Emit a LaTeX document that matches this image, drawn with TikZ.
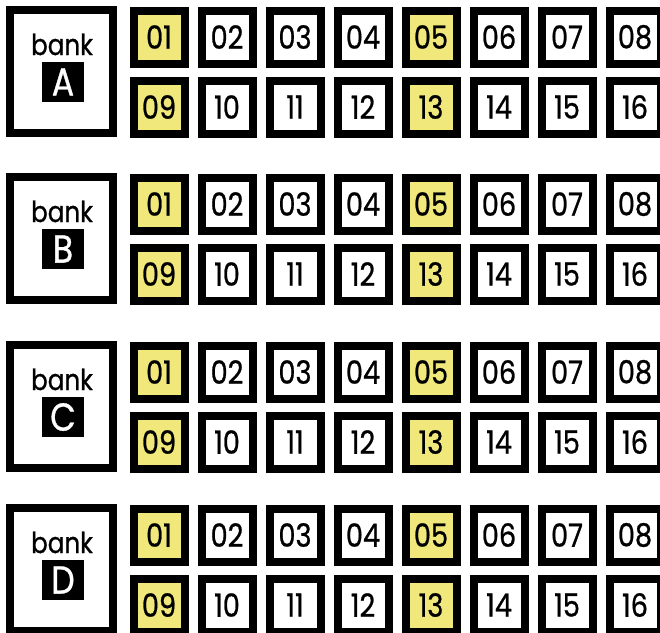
\documentclass[tikz,border=0pt]{standalone}
\usepackage{fontspec}
\newfontfamily\bankfont[FakeStretch=0.85, FakeBold=0.8]{Poppins}
\usetikzlibrary{positioning}
\definecolor{slotyellow}{RGB}{240,232,122}

\begin{document}
\begin{tikzpicture}[x=1pt, y=-1pt,
bankbox/.style={draw, line width=8pt, minimum width=103pt, minimum height=123pt, fill=white},
banklabel/.style={font=\bankfont\fontsize{29}{29}\selectfont, anchor=base, inner sep=0pt},
bankletter/.style={fill=black, text=white, minimum width=42pt, minimum height=40pt, inner sep=0pt, font=\bankfont\fontsize{39}{39}\selectfont},
slot/.style={draw, line width=8pt, minimum width=51pt, minimum height=53pt, inner sep=0pt, font=\bankfont\fontsize{32}{32}\selectfont}
]
\useasboundingbox (0,0) rectangle (660,632);
% one bank box and its sixteen slots per group
\foreach \b/\t in {A/6, B/173, C/341, D/504} {
  \node[bankbox] (bank\b) at (61.5,\t+65.5) {};
  \node[banklabel] (word\b) at (62,\t+49) {bank};
  \node[bankletter] (letter\b) at (63,\t+76) {\b};
  \foreach \i in {1,...,16} {
    \pgfmathtruncatemacro\col{mod(\i-1,8)}
    \pgfmathtruncatemacro\row{(\i-1)/8}
    \pgfmathtruncatemacro\hi{mod(\i-1,4)==0}
    \ifnum\hi=1 \def\slotcol{slotyellow}\else\def\slotcol{white}\fi
    \node[slot, fill=\slotcol] (\b-\i) at (159+68*\col,\t+31+70*\row) {\ifnum\i<10 0\fi\i};
  }
}
\end{tikzpicture}
\end{document}
